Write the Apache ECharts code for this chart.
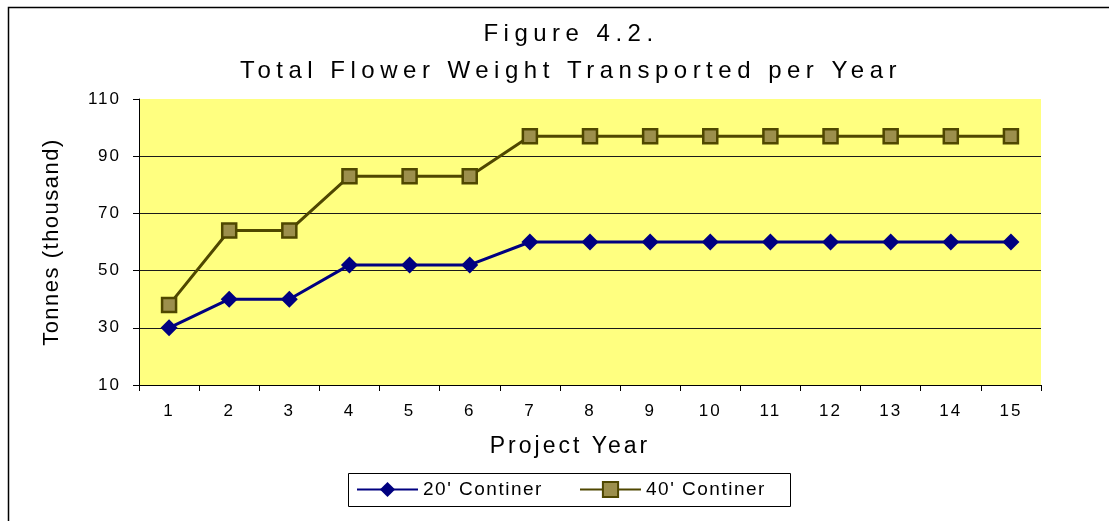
<!DOCTYPE html>
<html>
<head>
<meta charset="utf-8">
<title>Figure 4.2</title>
<script src="https://cdn.jsdelivr.net/npm/echarts@6/dist/echarts.min.js"></script>
<style>
  html, body { margin: 0; padding: 0; background: #fff; }
  #main { width: 1109px; height: 521px; }
</style>
</head>
<body>
<div id="main"></div>
<script>
// chart values
var years = ['1', '2', '3', '4', '5', '6', '7', '8', '9', '10', '11', '12', '13', '14', '15'];
var container20 = [30, 40, 40, 52, 52, 52, 60, 60, 60, 60, 60, 60, 60, 60, 60];
var container40 = [38, 64, 64, 83, 83, 83, 97, 97, 97, 97, 97, 97, 97, 97, 97];
var seriesNames = ["20' Continer", "40' Continer"];

// the original chart is drawn with wide letter spacing, per font size
var spacingBySize = { 24: 5.5, 23: 3, 22: 1.5, 19: 1.5, 17: 2 };
var origFillText = CanvasRenderingContext2D.prototype.fillText;
CanvasRenderingContext2D.prototype.fillText = function (text, x, y, maxW) {
  var m = /(\d+(?:\.\d+)?)px/.exec(this.font);
  var sp = m ? spacingBySize[Math.round(+m[1])] : 0;
  if ('letterSpacing' in this) this.letterSpacing = (sp || 0) + 'px';
  return maxW === undefined ? origFillText.call(this, text, x, y) : origFillText.call(this, text, x, y, maxW);
};

var FONT = 'Liberation Sans';
var chart = echarts.init(document.getElementById('main'), null, { renderer: 'canvas' });

var option = {
  backgroundColor: '#fff',
  animation: false,
  textStyle: { fontFamily: FONT, color: '#000' },
  title: {
    text: 'Figure 4.2.\nTotal Flower Weight Transported per Year',
    left: 566,
    top: 11,
    textAlign: 'center',
    textStyle: { fontFamily: FONT, fontSize: 24, fontWeight: 'normal', color: '#000', lineHeight: 37 }
  },
  grid: {
    left: 139,
    right: 68,
    top: 99,
    bottom: 136,
    show: true,
    backgroundColor: '#FFFF80',
    borderWidth: 0
  },
  legend: [{
    data: [seriesNames[0]],
    left: 356,
    top: 480,
    padding: 0,
    itemWidth: 61,
    itemHeight: 19,
    textStyle: { fontFamily: FONT, fontSize: 19, color: '#000' }
  }, {
    data: [seriesNames[1]],
    left: 579,
    top: 480,
    padding: 0,
    itemWidth: 61,
    itemHeight: 19,
    textStyle: { fontFamily: FONT, fontSize: 19, color: '#000' }
  }],
  xAxis: {
    type: 'category',
    data: years,
    boundaryGap: true,
    name: 'Project Year',
    nameLocation: 'middle',
    nameGap: 50,
    nameTextStyle: { fontFamily: FONT, fontSize: 23, color: '#000', padding: [0, 40, 0, 0] },
    axisLine: { lineStyle: { color: '#000', width: 1 } },
    axisTick: { show: true, length: 6, lineStyle: { color: '#000' } },
    axisLabel: { fontFamily: FONT, fontSize: 17, color: '#000', margin: 18 },
    splitLine: { show: false }
  },
  yAxis: {
    type: 'value',
    min: 10,
    max: 110,
    interval: 20,
    name: 'Tonnes (thousand)',
    nameLocation: 'middle',
    nameGap: 76,
    nameTextStyle: { fontFamily: FONT, fontSize: 22, color: '#000' },
    axisLine: { show: true, lineStyle: { color: '#000', width: 1 } },
    axisTick: { show: true, length: 6, lineStyle: { color: '#000' } },
    axisLabel: { fontFamily: FONT, fontSize: 17, color: '#000', margin: 18 },
    splitLine: { show: true, showMaxLine: false, lineStyle: { color: '#1a1a1a', width: 1 } }
  },
  series: [{
    name: seriesNames[0],
    type: 'line',
    data: container20,
    symbol: 'diamond',
    symbolSize: 17,
    lineStyle: { color: '#000080', width: 3 },
    itemStyle: { color: '#000080', borderColor: '#000080', borderWidth: 0 }
  }, {
    name: seriesNames[1],
    type: 'line',
    data: container40,
    symbol: 'rect',
    symbolSize: 14,
    lineStyle: { color: '#4F4700', width: 3 },
    itemStyle: { color: '#9C8F4C', borderColor: '#4F4700', borderWidth: 2.5 }
  }],
  graphic: [{
    type: 'rect',
    shape: { x: 8.5, y: 7.5, width: 1200, height: 600 },
    style: { fill: null, stroke: '#000', lineWidth: 1.5 },
    silent: true
  }, {
    type: 'rect',
    shape: { x: 348.5, y: 473.5, width: 442, height: 33 },
    style: { fill: null, stroke: '#000', lineWidth: 1 },
    silent: true
  }]
};

chart.setOption(option);
</script>
</body>
</html>
